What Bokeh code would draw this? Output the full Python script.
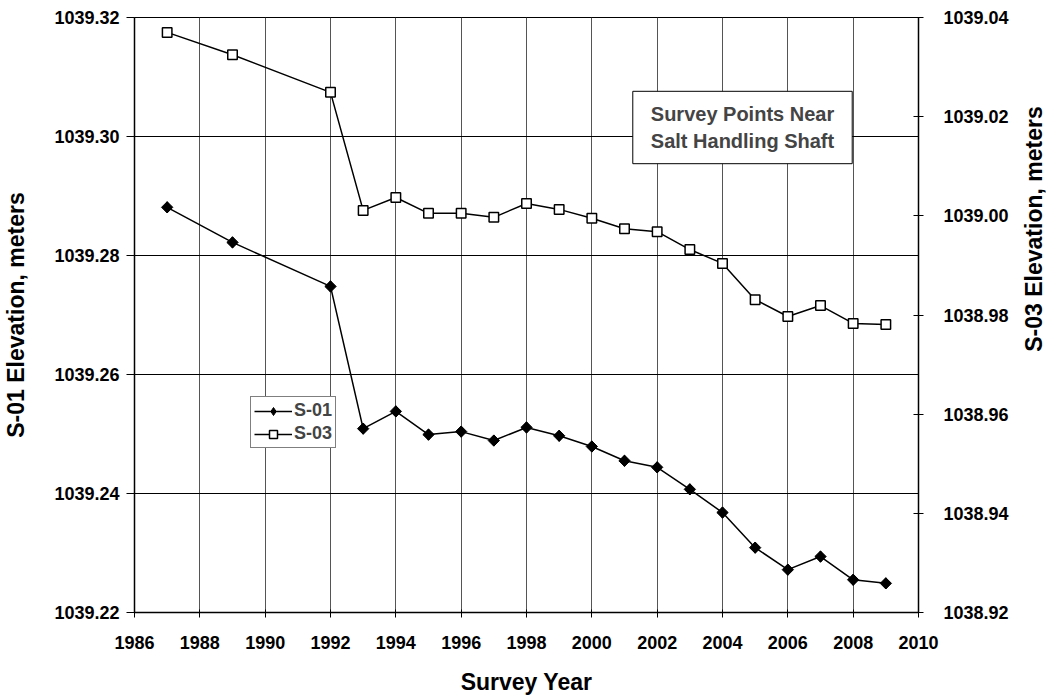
import math
from bokeh.plotting import figure
from bokeh.layouts import row
from bokeh.models import (Range1d, LinearAxis, SingleIntervalTicker, NumeralTickFormatter,
                          Label, Legend, LegendItem, Grid)
from bokeh.embed import file_html
from bokeh.resources import INLINE

# ---- data ----
years = [1987, 1989, 1992, 1993, 1994, 1995, 1996, 1997, 1998, 1999, 2000,
         2001, 2002, 2003, 2004, 2005, 2006, 2007, 2008, 2009]
s01 = [1039.2881, 1039.2822, 1039.2748, 1039.2509, 1039.2538, 1039.2499, 1039.2504,
       1039.2489, 1039.2511, 1039.2497, 1039.2479, 1039.2455, 1039.2444, 1039.2407,
       1039.2368, 1039.2309, 1039.2272, 1039.2294, 1039.2255, 1039.2249]
s03 = [1039.0370, 1039.0325, 1039.0249, 1039.0011, 1039.0037, 1039.0005, 1039.0005,
       1038.9997, 1039.0025, 1039.0013, 1038.9995, 1038.9974, 1038.9968, 1038.9932,
       1038.9904, 1038.9831, 1038.9797, 1038.9819, 1038.9783, 1038.9781]
series_names = ["S-01", "S-03"]
x_title = "Survey Year"
left_title = "S-01 Elevation, meters"
right_title = "S-03 Elevation, meters"
note_text = "Survey Points Near\nSalt Handling Shaft"

FONT = "Liberation Sans"
W_MAIN, W_SIDE, H = 1016, 30, 698

p = figure(width=W_MAIN, height=H, output_backend="svg", toolbar_location=None,
           x_range=Range1d(1986, 2010), y_range=Range1d(1039.22, 1039.32),
           min_border_left=132, min_border_right=98, min_border_top=17,
           min_border_bottom=86, x_axis_type=None, y_axis_type=None)
p.extra_y_ranges = {"r": Range1d(1038.92, 1039.04)}
p.background_fill_color = "white"
p.border_fill_color = "white"
p.outline_line_color = "black"
p.outline_line_width = 1

xaxis = LinearAxis(ticker=SingleIntervalTicker(interval=2, num_minor_ticks=0))
yaxis = LinearAxis(ticker=SingleIntervalTicker(interval=0.02, num_minor_ticks=0),
                   formatter=NumeralTickFormatter(format="0.00"))
raxis = LinearAxis(y_range_name="r",
                   ticker=SingleIntervalTicker(interval=0.02, num_minor_ticks=0),
                   formatter=NumeralTickFormatter(format="0.00"))
p.add_layout(xaxis, "below")
p.add_layout(yaxis, "left")
p.add_layout(raxis, "right")

for ax in (xaxis, yaxis, raxis):
    ax.axis_line_color = "black"
    ax.axis_line_width = 1.5
    ax.major_tick_line_color = "black"
    ax.major_tick_line_width = 1
    ax.minor_tick_line_color = None
    ax.major_label_text_font = FONT
    ax.major_label_text_font_style = "bold"
    ax.major_label_text_font_size = "18px"
    ax.major_label_text_color = "black"
    ax.axis_label_text_font = FONT
    ax.axis_label_text_font_style = "bold"
    ax.axis_label_text_font_size = "23px"
    ax.axis_label_text_color = "black"

xaxis.major_tick_in = 3
xaxis.major_tick_out = 5
xaxis.major_label_standoff = 18
xaxis.axis_label = x_title
xaxis.axis_label_standoff = 17

yaxis.major_tick_in = 0
yaxis.major_tick_out = 8
yaxis.major_label_standoff = 7
yaxis.axis_label = left_title
yaxis.axis_label_standoff = 22

raxis.major_tick_in = 5
raxis.major_tick_out = 5
raxis.major_label_standoff = 20

p.add_layout(Grid(dimension=0, ticker=xaxis.ticker, grid_line_color="#555555",
                  grid_line_width=1))
p.add_layout(Grid(dimension=1, ticker=yaxis.ticker, grid_line_color="black",
                  grid_line_width=1))

# ---- series ----
l1 = p.line(years, s01, line_color="black", line_width=1.5)
# diamond glyph (used for the legend key), hidden under the rotated squares
key1 = p.scatter(years, s01, marker="diamond", size=11, fill_color="black",
                 line_color="black")
m1 = p.scatter(years, s01, marker="square", angle=math.pi / 4, size=8,
               fill_color="black", line_color="black")
l3 = p.line(years, s03, line_color="black", line_width=1.5, y_range_name="r")
m3 = p.scatter(years, s03, marker="square", size=9.5, fill_color="white",
               line_color="black", line_width=1.5, y_range_name="r")

legend = Legend(items=[LegendItem(label=series_names[0], renderers=[l1, key1]),
                       LegendItem(label=series_names[1], renderers=[l3, m3])],
                location=(116, 164))
legend.border_line_color = "black"
legend.border_line_width = 1
legend.background_fill_color = "white"
legend.background_fill_alpha = 1
legend.padding = 3
legend.margin = 0
legend.spacing = 2
legend.label_standoff = 2
legend.glyph_width = 38
legend.glyph_height = 20
legend.label_height = 20
legend.label_text_font = FONT
legend.label_text_font_style = "bold"
legend.label_text_font_size = "18px"
p.add_layout(legend)

note = Label(x=608, y=485, x_units="screen", y_units="screen", text=note_text,
             text_font=FONT, text_font_style="bold", text_font_size="20px",
             text_align="center", text_baseline="middle", text_line_height=1.2,
             border_line_color="black", border_line_width=1,
             background_fill_color="white", padding=(18, 12))
p.add_layout(note)

# ---- side strip carrying the right-hand axis title (reads bottom to top) ----
side = figure(width=W_SIDE, height=H, output_backend="svg", toolbar_location=None,
              x_range=Range1d(0, 1), y_range=Range1d(0, 1), min_border=0,
              x_axis_type=None, y_axis_type=None)
side.outline_line_color = None
side.background_fill_color = "white"
side.border_fill_color = "white"
side.grid.visible = False
side.add_layout(Label(x=17, y=H - 314.5, x_units="screen", y_units="screen",
                      text=right_title, angle=math.pi / 2, text_font=FONT,
                      text_font_style="bold", text_font_size="23px",
                      text_color="black", text_align="center",
                      text_baseline="middle"))

layout = row(p, side, spacing=0)
open("out.html", "w").write(file_html(layout, INLINE))
